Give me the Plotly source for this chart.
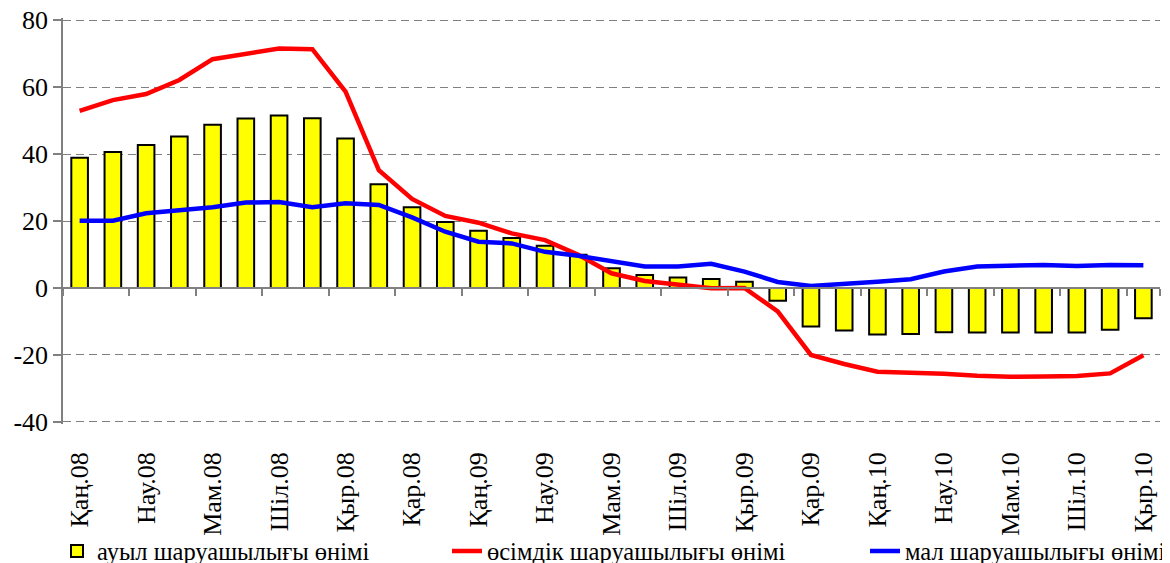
import plotly.graph_objects as go

months = ["Қаң", "Ақп", "Нау", "Сәу", "Мам", "Мау", "Шіл", "Там", "Қыр", "Қаз", "Қар", "Жел"]
years = ["08", "09", "10"]
categories = [f"{m}.{y}" for y in years for m in months][:33]

agri = [38.9, 40.6, 42.7, 45.2, 48.7, 50.6, 51.5, 50.7, 44.6, 31.0,
        24.1, 19.7, 17.1, 14.9, 12.6, 9.9, 5.9, 3.9, 3.1, 2.7, 1.9,
        -3.8, -11.5, -12.7, -13.9, -13.7, -13.2, -13.3, -13.3, -13.3, -13.3, -12.5, -9.0]
crop = [52.9, 56.1, 57.9, 62.1, 68.3, 69.9, 71.5, 71.3, 58.6, 35.2,
        26.6, 21.5, 19.5, 16.3, 14.3, 9.9, 4.4, 2.1, 0.9, -0.1, 0.0,
        -7.0, -20.0, -22.7, -25.0, -25.2, -25.6, -26.2, -26.5, -26.4, -26.3, -25.5, -20.1]
livestock = [20.1, 20.1, 22.3, 23.1, 24.1, 25.5, 25.7, 24.1, 25.3, 24.8,
             21.1, 16.8, 13.8, 13.3, 10.8, 9.6, 8.1, 6.4, 6.4, 7.2, 4.9,
             1.8, 0.6, 1.4, 1.9, 2.6, 4.9, 6.4, 6.7, 6.9, 6.6, 6.9, 6.8]

names = ["ауыл шаруашылығы өнімі", "өсімдік шаруашылығы өнімі", "мал шаруашылығы өнімі"]
label_cats = categories[::2]
y_ticks = [-40, -20, 0, 20, 40, 60, 80]
y_ticktext = [str(v) for v in y_ticks]
y_range = [-40.6, 80.6]

FONT = "Liberation Serif"
n = len(categories)
W, H = 1162, 555  # page adds an 8px body margin

fig = go.Figure()
fig.add_trace(go.Bar(x=categories, y=agri, name=names[0], width=0.5,
                     marker=dict(color="#FFFF00", line=dict(color="black", width=2)),
                     legend="legend"))
fig.add_trace(go.Scatter(x=categories, y=crop, name=names[1], mode="lines",
                         line=dict(color="#FF0000", width=4.5), legend="legend2"))
fig.add_trace(go.Scatter(x=categories, y=livestock, name=names[2], mode="lines",
                         line=dict(color="#0000FF", width=4.5), legend="legend3",
                         xaxis="x2"))

leg_y = 1 - 543 / H
leg_common = dict(xref="container", yref="container", orientation="h",
                  xanchor="left", yanchor="middle", y=leg_y,
                  font=dict(size=24.5, family=FONT, color="black"),
                  bgcolor="rgba(0,0,0,0)")

zero_pos = (0 - y_range[0]) / (y_range[1] - y_range[0])

fig.update_layout(
    width=W, height=H,
    margin=dict(l=55, r=10, t=10, b=139),
    paper_bgcolor="white", plot_bgcolor="white",
    font=dict(family=FONT, color="black"),
    showlegend=True,
    xaxis=dict(type="category", categoryorder="array", categoryarray=categories,
               range=[-0.5, n - 0.5], tickvals=label_cats, ticktext=label_cats,
               tickangle=-90, tickfont=dict(size=26, family=FONT, color="black"),
               showline=False, ticks="", showgrid=False, zeroline=False,
               ticklabelstandoff=22, automargin=False),
    xaxis2=dict(type="category", categoryorder="array", categoryarray=categories,
                overlaying="x", anchor="free", position=zero_pos, side="bottom",
                range=[-0.5, n - 0.5], tickvals=label_cats, tickson="boundaries",
                showticklabels=False, ticks="outside", ticklen=7, tickwidth=1.5,
                tickcolor="#808080", showline=True, linecolor="#808080", linewidth=1.5,
                showgrid=False, zeroline=False, automargin=False),
    yaxis=dict(range=y_range, tickvals=y_ticks, ticktext=y_ticktext,
               ticks="outside", ticklen=8, ticklabeloverflow="allow",
               tickwidth=1.5, tickcolor="#808080", showline=True, linecolor="#808080",
               linewidth=1.5, showgrid=True, gridcolor="#808080", griddash="8px,5px",
               gridwidth=1, zeroline=False, automargin=False,
               tickfont=dict(size=26, family=FONT, color="black")),
    legend=dict(x=49 / W, **leg_common),
    legend2=dict(x=439 / W, **leg_common),
    legend3=dict(x=857 / W, **leg_common),
)

fig.write_html("out.html")
